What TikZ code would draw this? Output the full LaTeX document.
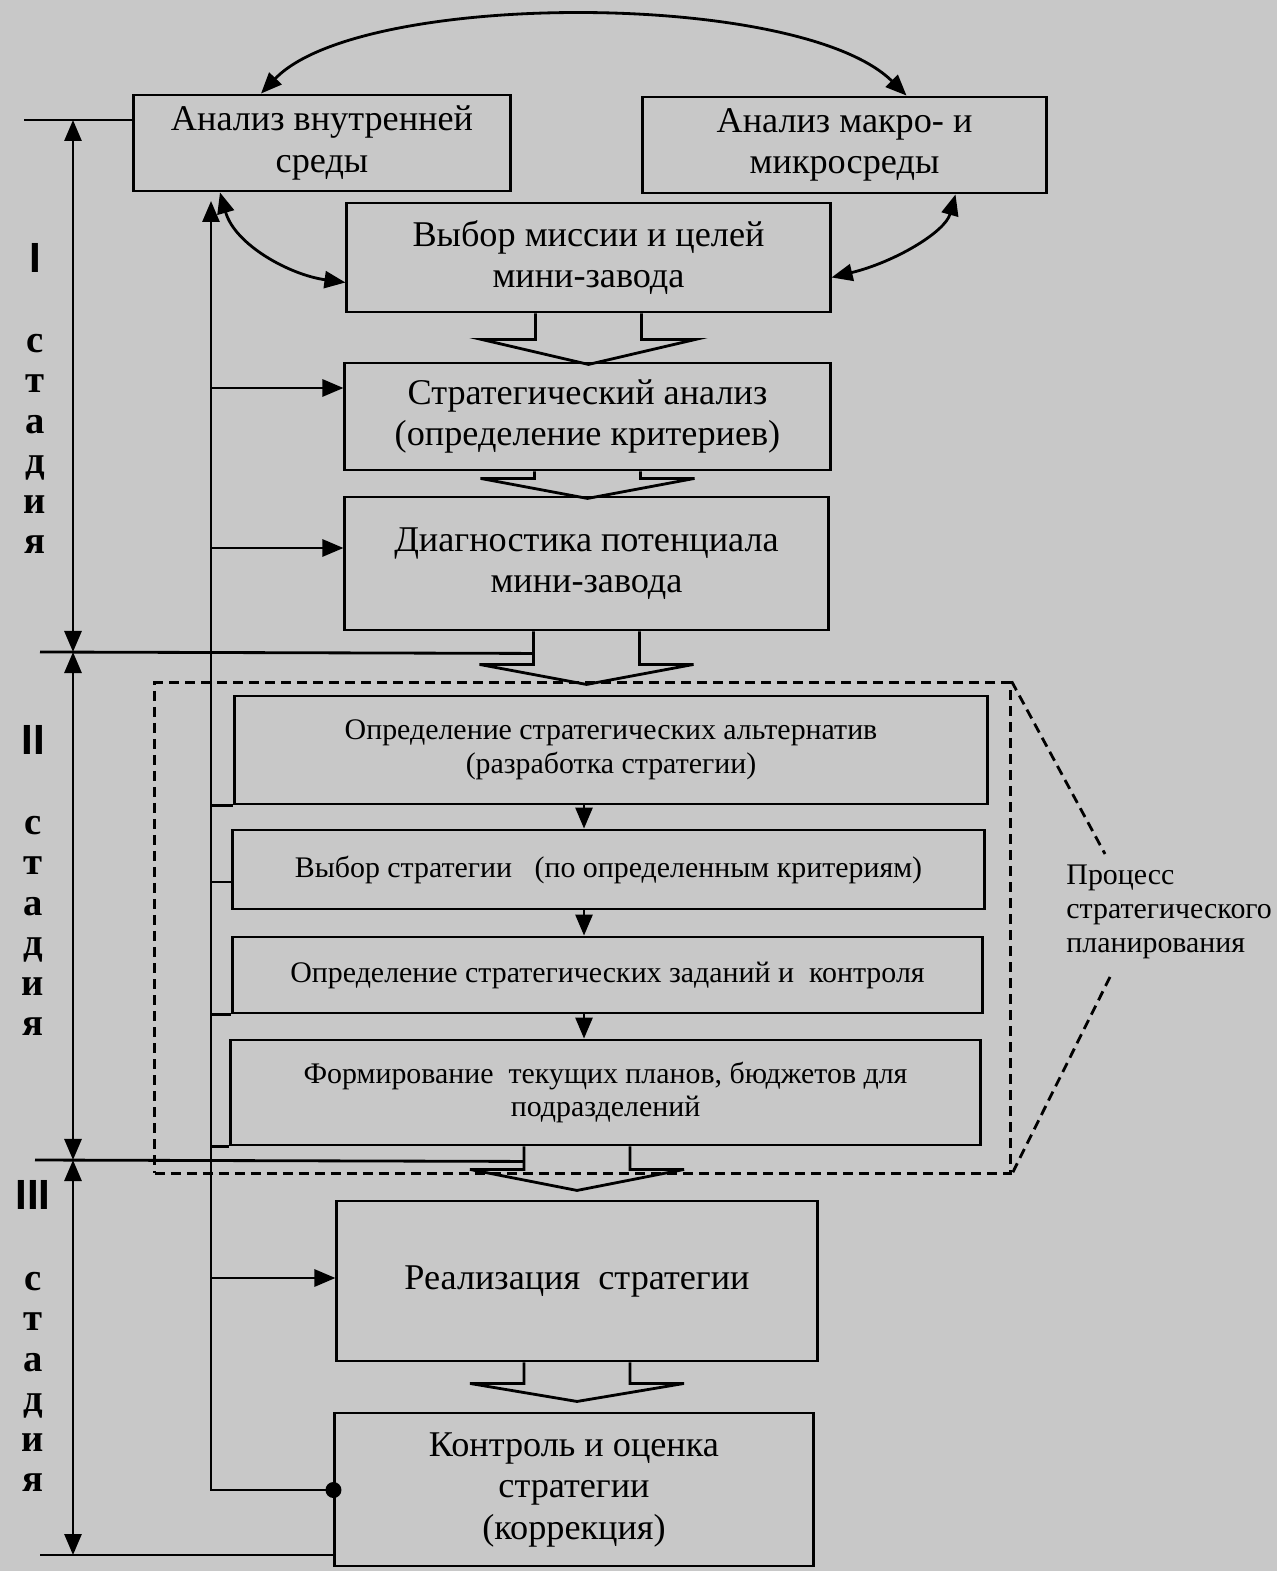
\documentclass[tikz,border=0pt]{standalone}
\usepackage{fontspec}
\setmainfont{Liberation Serif}
\newfontfamily\romfont{Liberation Sans}
\usetikzlibrary{arrows.meta,calc}
\definecolor{pagegray}{RGB}{200,200,200}
\newcommand{\bigarrow}[3]{\draw #1 ++(-53,0) -- ++(0,#2) -- ++(-54,0) -- ++(107,#3) -- ++(107,-#3) -- ++(-54,0) -- ++(0,-#2);}

\begin{document}
\begin{tikzpicture}[x=0.01cm,y=-0.01cm,line width=0.8pt,
        >={Triangle[length=2.1mm,width=1.7mm]},
        box/.style={draw,align=center,inner sep=0pt,font=\fontsize{10.3}{11.8}\selectfont},
        sbox/.style={box,font=\fontsize{8.5}{9.6}\selectfont},
        frame/.style={draw,dash pattern=on 1mm off 0.6mm,inner sep=0pt},
        dline/.style={dash pattern=on 1mm off 0.6mm},
        stg/.style={font=\fontsize{11}{11.4}\selectfont\bfseries,align=center,inner sep=0pt},
        rom/.style={font=\fontsize{12}{12}\selectfont\romfont\bfseries,inner sep=0pt}]
        \fill[pagegray](0,0)rectangle(1277,1571);
        \useasboundingbox(0,0)rectangle(1277,1571);

        \node[box,minimum width=3.76cm,minimum height=0.96cm](inner)at(322,143){Анализ внутренней\\среды};
        \node[box,minimum width=4.03cm,minimum height=0.96cm](macro)at(844.5,145){Анализ макро- и\\микросреды};
        \node[box,minimum width=4.83cm,minimum height=1.09cm](mission)at(588.5,257.5){Выбор миссии и целей\\мини-завода};
        \node[box,minimum width=4.85cm,minimum height=1.07cm](stran)at(587.5,416.5){Стратегический анализ\\(определение критериев)};
        \node[box,minimum width=4.83cm,minimum height=1.33cm](diag)at(586.5,563.5){Диагностика потенциала\\мини-завода};
        \node[sbox,minimum width=7.52cm,minimum height=1.08cm](alt)at(611,750){Определение стратегических альтернатив\\(разработка стратегии)};
        \node[sbox,minimum width=7.51cm,minimum height=0.79cm](choice)at(608.5,869.5){Выбор стратегии~~~(по определенным критериям)};
        \node[sbox,minimum width=7.49cm,minimum height=0.76cm](tasks)at(607.5,975){Определение стратегических заданий и~~контроля};
        \node[sbox,minimum width=7.49cm,minimum height=1.05cm](plans)at(605.5,1092.5){Формирование~~текущих планов, бюджетов для\\подразделений};
        \node[box,minimum width=4.80cm,minimum height=1.60cm](impl)at(577,1281){Реализация~~стратегии};
        \node[box,minimum width=4.78cm,minimum height=1.53cm](ctrl)at(574,1489.5){Контроль и оценка\\стратегии\\(коррекция)};

        \node[frame,minimum width=8.55cm,minimum height=4.90cm](plan)at(582.5,928){};
        \node[sbox,draw=none,align=left,anchor=west](lbl)at(1065,912){Процесс\\стратегического\\планирования};
        \coordinate(lt)at(1105,854);
        \coordinate(lb)at(1110,977);
        \draw[dline](plan.north east)--(lt);
        \draw[dline](lb)--(plan.south east);

        \bigarrow{(mission.south)}{26}{25}
        \bigarrow{(stran.south)}{7}{20}
        \bigarrow{(diag.south)}{33}{20}
        \bigarrow{(plans.south -| impl.north)}{23}{21}
        \bigarrow{(impl.south)}{21}{18}

        \draw[<->]($(inner.north)+(-61,0)$)..controls(360,-10)and(800,-10)..($(macro.north)+(62,0)$);
        \draw[<->]($(inner.south)+(-102,0)$)..controls(235,245)and(290,275)..($(mission.west)+(0,25)$);
        \draw[<->]($(mission.east)+(0,20)$)..controls(895,262)and(945,232)..($(macro.south)+(111,0)$);

        \coordinate(fbtop)at(211,201);
        \coordinate(fbbot)at(211,1490);
        \draw[->](ctrl.west |- fbbot)--(fbbot)--(fbtop);
        \fill(ctrl.west |- fbbot)circle(0.8mm);
        \coordinate(fa)at(211,388);
        \coordinate(fb)at(211,548);
        \coordinate(fc)at(211,1278);
        \coordinate(fd)at(211,882);
        \draw[->](fa)--(fa -| stran.west);
        \draw[->](fb)--(fb -| diag.west);
        \draw[->](fc)--(fc -| impl.west);
        \draw(fbtop |- alt.south west)--(alt.south west);
        \draw(fd)--(fd -| choice.west);
        \draw(fbtop |- tasks.south west)--(tasks.south west);
        \draw(fbtop |- plans.south west)--(plans.south west);

        \coordinate(sx)at(584,0);
        \draw[->](alt.south -| sx)--(choice.north -| sx);
        \draw[->](choice.south -| sx)--(tasks.north -| sx);
        \draw[->](tasks.south -| sx)--(plans.north -| sx);

        \coordinate(s0)at(73,120);
        \coordinate(s1)at(73,652);
        \coordinate(s2)at(73,1160);
        \coordinate(s3)at(73,1555);
        \draw[<->](s0)--(s1);
        \draw[<->](s1)--(s2);
        \draw[<->](s2)--(s3);
        \coordinate(k0)at(24,120);
        \coordinate(k1)at(40,652);
        \coordinate(k2)at(35,1160);
        \coordinate(k3)at(40,1555);
        \draw(k0)--(k0 -| inner.west);
        \draw(k1)--($(diag.south)+(-53,22)$);
        \draw(k2)--($(plans.south -| impl.north)+(-53,15)$);
        \draw(k3)--(k3 -| ctrl.west);

        \node[rom](r1)at(35,258){I};
        \node[stg](w1)at(35,444){с\\т\\а\\д\\и\\я};
        \node[rom](r2)at(33,740){II};
        \node[stg](w2)at(33,926){с\\т\\а\\д\\и\\я};
        \node[rom](r3)at(33,1195){III};
        \node[stg](w3)at(33,1382){с\\т\\а\\д\\и\\я};

    \end{tikzpicture}
\end{document}
